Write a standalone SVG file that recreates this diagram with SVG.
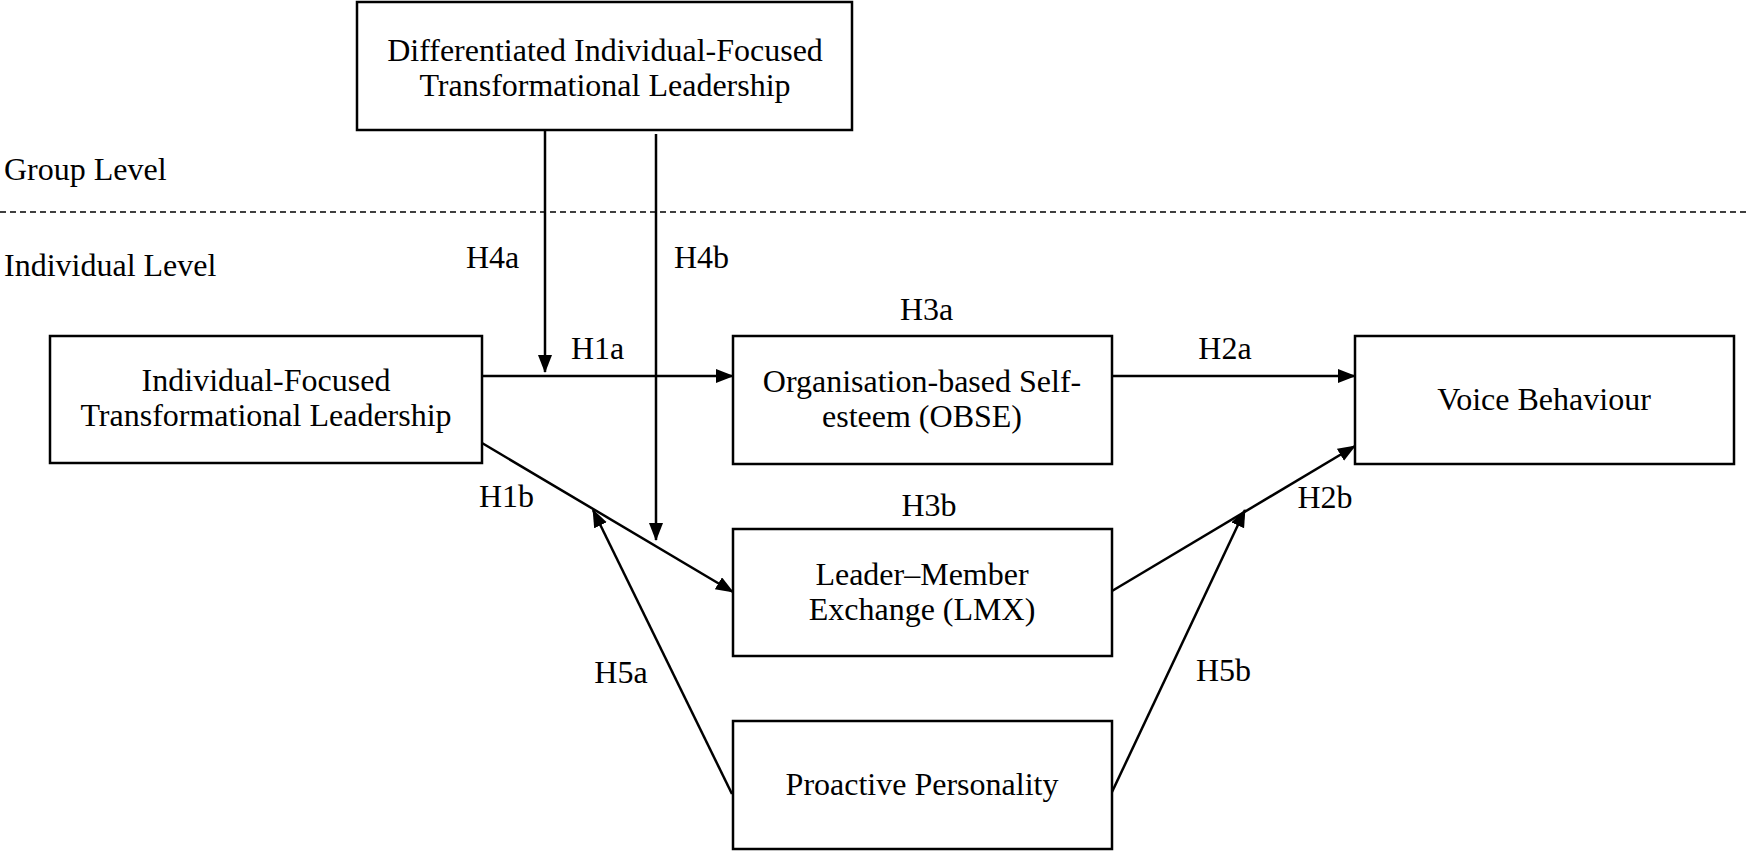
<svg xmlns="http://www.w3.org/2000/svg" width="1746" height="851" viewBox="0 0 1746 851">
<style>
.box{fill:#fff;stroke:#000;stroke-width:2.5}
.t{font-family:"Liberation Serif","Times New Roman",serif;font-size:32px;fill:#000}
.m{text-anchor:middle}
.c{fill:none;stroke:#000;stroke-width:2.5}
</style>
<defs>
<marker id="ah" markerUnits="userSpaceOnUse" markerWidth="20" markerHeight="16" refX="17" refY="7" orient="auto">
<path d="M0,0 L18,7 L0,14 z" fill="#000"/>
</marker>
</defs>
<rect width="1746" height="851" fill="#fff"/>
<line x1="0" y1="212" x2="1746" y2="212" stroke="#000" stroke-width="1.3" stroke-dasharray="6,4"/>
<text class="t" x="4" y="180">Group Level</text>
<text class="t" x="4" y="276">Individual Level</text>
<g id="connectors">
<line class="c" x1="545" y1="130" x2="545" y2="372" marker-end="url(#ah)"/>
<line class="c" x1="656" y1="134" x2="656" y2="540" marker-end="url(#ah)"/>
<line class="c" x1="482" y1="376" x2="733" y2="376" marker-end="url(#ah)"/>
<line class="c" x1="1112" y1="376" x2="1355" y2="376" marker-end="url(#ah)"/>
<line class="c" x1="482" y1="443" x2="733" y2="592" marker-end="url(#ah)"/>
<line class="c" x1="1112" y1="591" x2="1355" y2="446" marker-end="url(#ah)"/>
<line class="c" x1="732" y1="794" x2="593" y2="510" marker-end="url(#ah)"/>
<line class="c" x1="1112" y1="792" x2="1245" y2="510" marker-end="url(#ah)"/>
<text class="t" x="466" y="268">H4a</text>
<text class="t" x="674" y="268">H4b</text>
<text class="t" x="571" y="359">H1a</text>
<text class="t" x="900" y="320">H3a</text>
<text class="t m" x="1225" y="359">H2a</text>
<text class="t" x="479" y="507">H1b</text>
<text class="t m" x="929" y="516">H3b</text>
<text class="t m" x="1325" y="508">H2b</text>
<text class="t m" x="621" y="683">H5a</text>
<text class="t" x="1196" y="681">H5b</text>
</g>
<g id="dift">
<rect class="box" x="357" y="2" width="495" height="128"/>
<text class="t m" x="605" y="61">Differentiated Individual-Focused<tspan x="605" dy="35">Transformational Leadership</tspan></text>
</g>
<g id="ift">
<rect class="box" x="50" y="336" width="432" height="127"/>
<text class="t m" x="266" y="391">Individual-Focused<tspan x="266" dy="35">Transformational Leadership</tspan></text>
</g>
<g id="obse">
<rect class="box" x="733" y="336" width="379" height="128"/>
<text class="t m" x="922" y="392">Organisation-based Self-<tspan x="922" dy="35">esteem (OBSE)</tspan></text>
</g>
<g id="voice">
<rect class="box" x="1355" y="336" width="379" height="128"/>
<text class="t m" x="1544" y="410">Voice Behaviour</text>
</g>
<g id="lmx">
<rect class="box" x="733" y="529" width="379" height="127"/>
<text class="t m" x="922" y="585">Leader–Member<tspan x="922" dy="35">Exchange (LMX)</tspan></text>
</g>
<g id="proactive">
<rect class="box" x="733" y="721" width="379" height="128"/>
<text class="t m" x="922" y="795">Proactive Personality</text>
</g>
</svg>
